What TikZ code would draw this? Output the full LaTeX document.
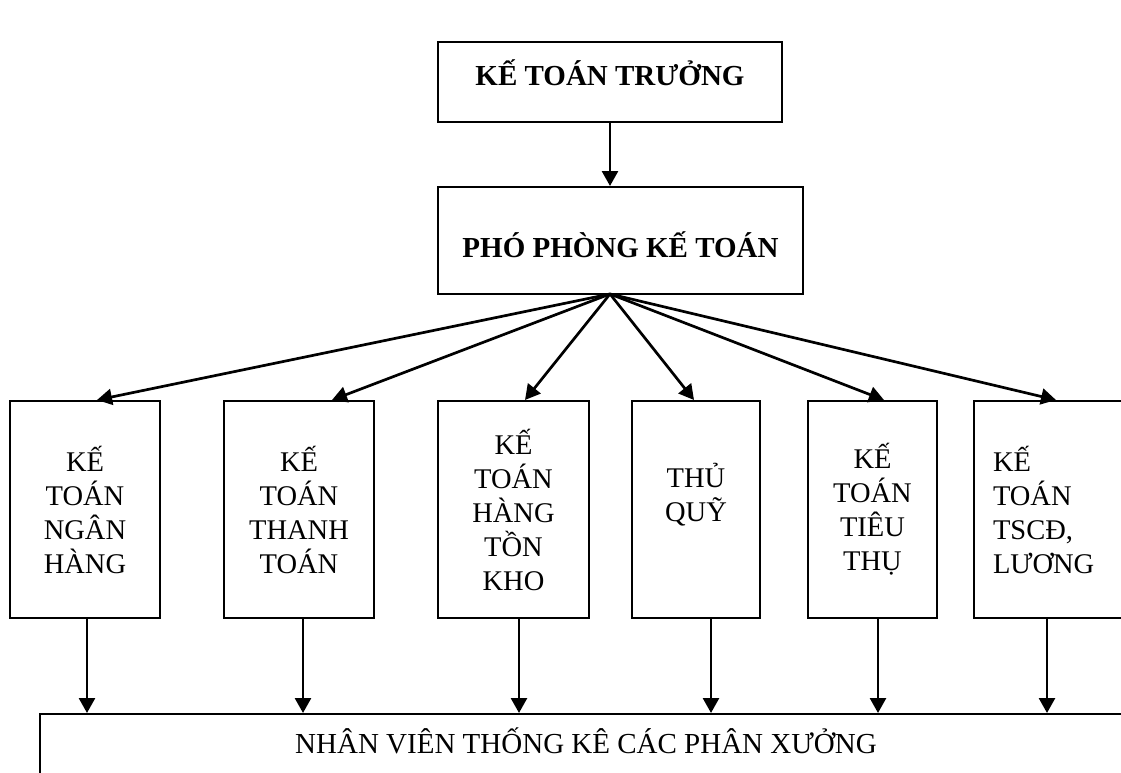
\documentclass[tikz,border=0pt]{standalone}
\usepackage{fontspec}
\setmainfont{Liberation Serif}
\usetikzlibrary{arrows.meta}
\tikzset{
  box/.style={draw, line width=2pt, inner sep=0pt, align=center},
  lvl/.style={box, minimum height=217pt, font=\fontsize{28.5}{34}\selectfont},
  arr/.style={line width=2.7pt, -{Triangle[length=15pt,width=16pt]}},
}
\begin{document}
\begin{tikzpicture}[x=1pt,y=-1pt]
\useasboundingbox (0,0) rectangle (1121,773);
\clip (0,0) rectangle (1121,773);
% top levels
\node[box, minimum width=344pt, minimum height=80pt, font=\bfseries\fontsize{29}{34}\selectfont, text height=20pt, text depth=13pt] (tr) at (610,82) {KẾ TOÁN TRƯỞNG};
\node[box, minimum width=365pt, minimum height=107pt, font=\bfseries\fontsize{29}{34}\selectfont, text height=33pt, text depth=0pt] (p) at (620.5,240.5) {PHÓ PHÒNG KẾ TOÁN};
% second level
\node[lvl, minimum width=150pt] (k1) at (85,509.5) {KẾ\\TOÁN\\NGÂN\\HÀNG};
\node[lvl, minimum width=150pt] (k2) at (299,509.5) {KẾ\\TOÁN\\THANH\\TOÁN};
\node[lvl, minimum width=151pt] (k3) at (513.5,509.5) {KẾ\\TOÁN\\HÀNG\\TỒN\\KHO};
\node[lvl, minimum width=128pt] (k4) at (696,509.5) {THỦ\\QUỸ\\~};
\node[lvl, minimum width=129pt] (k5) at (872.5,509.5) {KẾ\\TOÁN\\TIÊU\\THỤ};
\node[lvl, minimum width=152pt, text width=114pt, inner xsep=19pt, align=left] (k6) at (1050,509.5) {KẾ\\TOÁN\\TSCĐ,\\LƯƠNG};
% bottom
\node[box, anchor=north west, minimum width=1092pt, minimum height=80pt, font=\fontsize{29}{34}\selectfont, text height=10pt, text depth=12pt] (nv) at (39,713) {NHÂN VIÊN THỐNG KÊ CÁC PHÂN XƯỞNG};
% connectors
\draw[arr] (tr.south) -- (tr.south |- p.north);
\coordinate (hub) at (610,294);
\foreach \k/\t/\b in {k1/88/78, k2/109/80, k3/88/82, k4/63/80, k5/77/71, k6/83/74} {
  \coordinate (\k t) at ([xshift=\t pt]\k.north west);
  \coordinate (\k b) at ([xshift=\b pt]\k.south west);
  \draw[arr] (hub) -- (\k t);
  \draw[arr] (\k b) -- (\k b |- nv.north);
}
\end{tikzpicture}
\end{document}
